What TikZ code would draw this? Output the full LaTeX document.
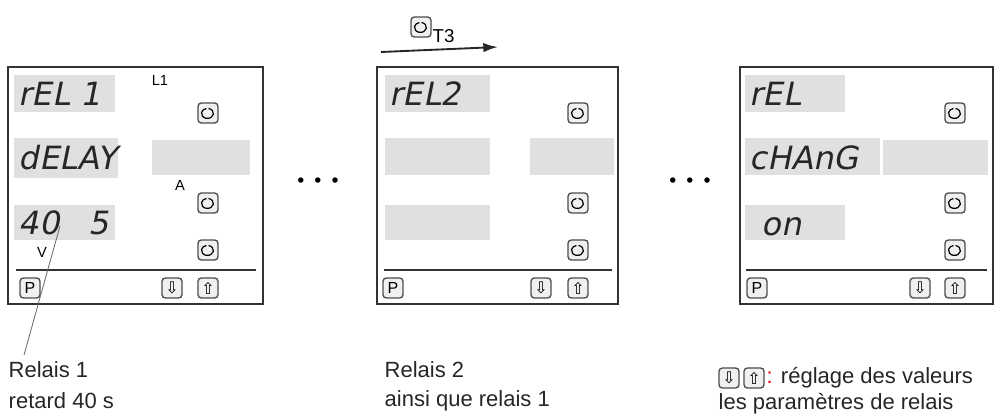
\documentclass[tikz,border=0pt]{standalone}
\usepackage{fontspec}
\setmainfont{Liberation Sans}
\newfontfamily\dv{DejaVu Sans}
\newfontfamily\seg{DejaVu Sans}[FakeSlant=0.2]
\usetikzlibrary{arrows.meta}
\begin{document}
\begin{tikzpicture}[x=0.75pt,y=-0.75pt,
  panel/.style={draw=black!80,line width=1.3pt},
  field/.style={fill=black!12,draw=none},
  segt/.style={font=\seg\fontsize{24}{24}\selectfont,anchor=west,text=black!85},
  btn/.style={draw=black!70,line width=1pt,rounded corners=2.5pt,minimum size=15pt,inner sep=0pt,fill=black!6},
  lab/.style={font=\fontsize{11}{11}\selectfont},
  captxt/.style={font=\fontsize{16.5}{16.5}\selectfont,anchor=west,text=black!85}]
\useasboundingbox (0,0) rectangle (1000,418);
\clip (0,0) rectangle (1000,418);
\newcommand\loopbtn[2]{\node[btn] (#1) at (#2) {};\draw[line width=0.9pt] (#1) ++(0.5,-4.5) arc[start angle=-80,end angle=260,x radius=6,y radius=5];}
\newcommand\pbtn[2]{\node[btn,font=\fontsize{12}{12}\selectfont] (#1) at (#2) {P};}
\newcommand\dnbtn[2]{\node[btn,font=\dv\fontsize{12}{12}\selectfont] (#1) at (#2) {⇩};}
\newcommand\upbtn[2]{\node[btn,font=\dv\fontsize{12}{12}\selectfont] (#1) at (#2) {⇧};}
% panel 1
\draw[panel] (8,67) rectangle (263,304);
\fill[field] (14,75) rectangle (115,112); \node[segt] (t11) at (14,94) {rEL 1};
\fill[field] (14,138) rectangle (118,178); \node[segt] (t12) at (14,158) {dELAY};
\fill[field] (152,140) rectangle (250,175);
\fill[field] (14,205) rectangle (115,240); \node[segt] (t13) at (14,223) {40\hspace{22pt}5};
\node[lab] (l1) at (160,80) {L1};
\node[lab] (a1) at (180,185) {A};
\node[lab] (v1) at (42,252) {V};
\loopbtn{b11}{208,113} \loopbtn{b12}{208,203} \loopbtn{b13}{208,250}
\draw[black!80,line width=1pt] (16,270) -- (256,270);
\pbtn{p1}{30,288} \dnbtn{d1}{172,288} \upbtn{u1}{208,288}
\coordinate (lead) at (24,355);
\draw[black!60,line width=0.6pt] (60,226) -- (lead);
% dots
\node[font=\dv\fontsize{14}{14}\selectfont] (dots1) at (318,183) {•\,\,•\,\,•};
\node[font=\dv\fontsize{14}{14}\selectfont] (dots2) at (690,183) {•\,\,•\,\,•};
% top arrow
\coordinate (ar1) at (381,52); \coordinate (ar2) at (498,47);
\draw[-{Latex[length=11pt,width=7pt]},line width=1.4pt,black!85] (ar1) -- (ar2);
\loopbtn{bt}{421,27}
\node[font=\fontsize{14}{14}\selectfont,anchor=west] (t3) at (428,36) {T3};
% panel 2
\draw[panel] (377,67) rectangle (618,304);
\fill[field] (385,75) rectangle (490,112); \node[segt] (t21) at (385,94) {rEL2};
\fill[field] (385,138) rectangle (490,175);
\fill[field] (530,138) rectangle (614,175);
\fill[field] (385,205) rectangle (490,240);
\loopbtn{b21}{578,113} \loopbtn{b22}{578,203} \loopbtn{b23}{578,250}
\draw[black!80,line width=1pt] (384,270) -- (612,270);
\pbtn{p2}{393,288} \dnbtn{d2}{541,288} \upbtn{u2}{578,288}
% panel 3
\draw[panel] (740,67) rectangle (993,304);
\fill[field] (745,75) rectangle (845,112); \node[segt] (t31) at (745,94) {rEL};
\fill[field] (745,138) rectangle (880,175); \node[segt] (t32) at (745,158) {cHAnG};
\fill[field] (883,140) rectangle (988,175);
\fill[field] (745,205) rectangle (845,240); \node[segt] (t33) at (757,227) {on};
\loopbtn{b31}{955,113} \loopbtn{b32}{955,203} \loopbtn{b33}{955,250}
\draw[black!80,line width=1pt] (746,270) -- (987,270);
\pbtn{p3}{757,288} \dnbtn{d3}{920,288} \upbtn{u3}{955,288}
% captions
\node[captxt] (c11) at (4,370) {Relais 1};
\node[captxt] (c12) at (4,401) {retard 40 s};
\node[captxt] (c21) at (380,370) {Relais 2};
\node[captxt] (c22) at (380,401) {ainsi que relais 1};
\dnbtn{dc}{729,378} \upbtn{uc}{754,378}
\node[captxt] (c31) at (762,378) {{\color{red}:} réglage des valeurs};
\node[captxt] (c32) at (714,404) {les paramètres de relais};
\end{tikzpicture}
\end{document}
